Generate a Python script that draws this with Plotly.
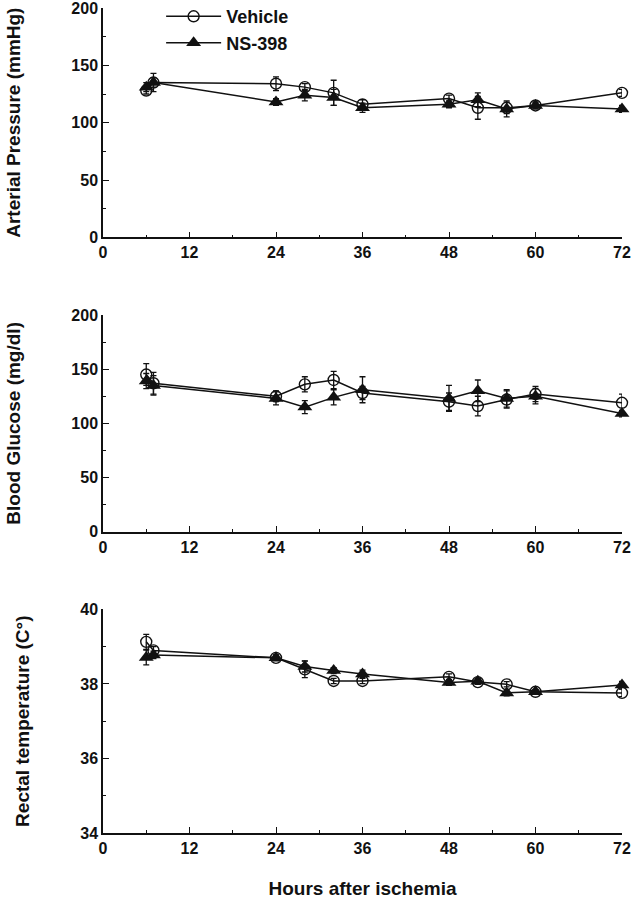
import plotly.graph_objects as go

# ---------------- data ----------------
hours = [6, 7, 24, 28, 32, 36, 48, 52, 56, 60, 72]

ap_vehicle = [128, 135, 134, 131, 126, 116, 121, 113, 113, 115, 126]
ap_vehicle_err = [3, 4, 6, 3, 11, 4, 3, 10, 5, 3, 3]
ap_ns = [131, 135, 118, 124, 122, 113, 116, 120, 112, 115, 112]
ap_ns_err = [4, 8, 3, 5, 7, 4, 3, 6, 7, 3, 3]

bg_vehicle = [145, 137, 125, 136, 140, 128, 120, 116, 122, 127, 119]
bg_vehicle_err = [10, 10, 5, 7, 8, 6, 8, 9, 8, 7, 8]
bg_ns = [139, 135, 123, 115, 124, 131, 123, 130, 123, 125, 109]
bg_ns_err = [7, 9, 6, 6, 7, 12, 12, 10, 8, 7, 3]

rt_vehicle = [39.13, 38.9, 38.7, 38.39, 38.08, 38.08, 38.19, 38.05, 37.99, 37.79, 37.76]
rt_vehicle_err = [0.2, 0.1, 0.08, 0.22, 0.07, 0.07, 0.08, 0.06, 0.07, 0.06, 0.1]
rt_ns = [38.71, 38.78, 38.7, 38.47, 38.36, 38.27, 38.04, 38.07, 37.76, 37.79, 37.97]
rt_ns_err = [0.2, 0.1, 0.07, 0.15, 0.08, 0.1, 0.08, 0.07, 0.08, 0.06, 0.1]

series_names = ["Vehicle", "NS-398"]
y_titles = ["Arterial Pressure (mmHg)", "Blood Glucose (mg/dl)", "Rectal temperature (C\u00b0)"]
x_title = "Hours after ischemia"
x_ticks = [0, 12, 24, 36, 48, 60, 72]
ap_ticks = [0, 50, 100, 150, 200]
bg_ticks = [0, 50, 100, 150, 200]
rt_ticks = [34, 36, 38, 40]

# ---------------- figure ----------------
FONT = "Liberation Sans, Arial, Helvetica, sans-serif"
BLACK = "#111111"

panels = [
    (ap_vehicle, ap_vehicle_err, ap_ns, ap_ns_err),
    (bg_vehicle, bg_vehicle_err, bg_ns, bg_ns_err),
    (rt_vehicle, rt_vehicle_err, rt_ns, rt_ns_err),
]

fig = go.Figure()
for i, (v, ve, n, ne) in enumerate(panels):
    xa = "x" if i == 0 else f"x{i+1}"
    ya = "y" if i == 0 else f"y{i+1}"
    fig.add_trace(go.Scatter(
        x=hours, y=v, xaxis=xa, yaxis=ya, name=series_names[0],
        legendgroup="veh", showlegend=(i == 0), cliponaxis=False,
        mode="lines+markers",
        line=dict(color=BLACK, width=1.5),
        marker=dict(symbol="circle-open", size=11, color=BLACK, line=dict(width=1.4, color=BLACK)),
        error_y=dict(type="data", array=ve, visible=True, color=BLACK, thickness=1.3, width=3),
    ))
    fig.add_trace(go.Scatter(
        x=hours, y=n, xaxis=xa, yaxis=ya, name=series_names[1],
        legendgroup="ns", showlegend=(i == 0), cliponaxis=False,
        mode="lines+markers",
        line=dict(color=BLACK, width=1.5),
        marker=dict(symbol="triangle-up", size=13, color=BLACK, line=dict(width=0)),
        error_y=dict(type="data", array=ne, visible=True, color=BLACK, thickness=1.3, width=3),
    ))

tickfont = dict(family=FONT, size=16, color=BLACK, weight="bold")
titlefont = dict(family=FONT, size=19, color=BLACK, weight="bold")

def xaxis(anchor, show_title):
    d = dict(
        range=[0, 72], tickvals=x_ticks, ticktext=[str(t) for t in x_ticks],
        showline=True, linecolor=BLACK, linewidth=1.5, mirror=False,
        ticks="inside", ticklen=6, tickwidth=1.3, tickcolor=BLACK,
        minor=dict(ticks="inside", dtick=6, tick0=0, ticklen=3, tickwidth=1.3, tickcolor=BLACK),
        showgrid=False, zeroline=False, tickfont=tickfont, anchor=anchor,
        domain=[0, 1], automargin=False, ticklabeloverflow="allow",
    )
    if show_title:
        d["title"] = dict(text=x_title, font=titlefont, standoff=26)
    return d

def yaxis(rng, tickvals, minor_dtick, domain, title, anchor):
    return dict(
        range=rng, tickvals=tickvals, ticktext=[str(t) for t in tickvals],
        showline=True, linecolor=BLACK, linewidth=1.5, mirror=False,
        ticks="inside", ticklen=6, tickwidth=1.3, tickcolor=BLACK,
        minor=dict(ticks="inside", dtick=minor_dtick, tick0=rng[0], ticklen=3, tickwidth=1.3, tickcolor=BLACK),
        showgrid=False, zeroline=False, tickfont=tickfont, anchor=anchor,
        domain=domain, automargin=False, ticklabeloverflow="allow",
        title=dict(text=title, font=titlefont, standoff=46),
    )

fig.update_layout(
    width=639, height=899,
    margin=dict(l=103, r=17, t=8, b=66, autoexpand=False),
    paper_bgcolor="white", plot_bgcolor="white",
    font=dict(family=FONT, color=BLACK),
    xaxis=xaxis("y", False),
    xaxis2=xaxis("y2", False),
    xaxis3=xaxis("y3", True),
    yaxis=yaxis([0, 200], ap_ticks, 25, [0.722, 1.0], y_titles[0], "x"),
    yaxis2=yaxis([0, 200], bg_ticks, 25, [0.365, 0.628], y_titles[1], "x2"),
    yaxis3=yaxis([34, 40], rt_ticks, 1, [0.0, 0.271], y_titles[2], "x3"),
    legend=dict(
        x=0.112, y=1.012, xanchor="left", yanchor="top",
        font=dict(family=FONT, size=18, color=BLACK, weight="bold"),
        bgcolor="rgba(0,0,0,0)", tracegroupgap=0, itemwidth=55,
    ),
    showlegend=True,
)

fig.write_html(
    "out.html",
    config={"displayModeBar": False},
    post_script="document.body.style.margin='0';document.body.style.padding='0';document.body.style.overflow='hidden';",
)
